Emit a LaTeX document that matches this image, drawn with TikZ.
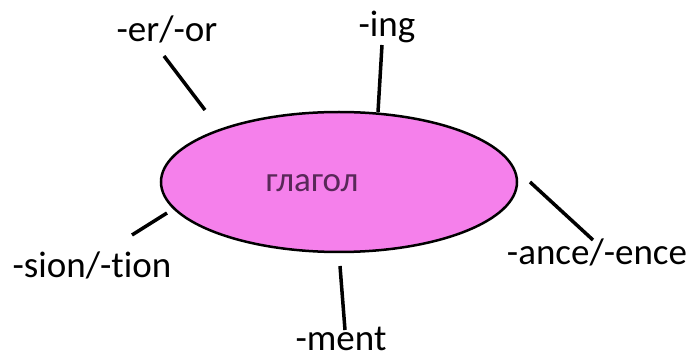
\documentclass[tikz,border=0pt]{standalone}
\usepackage{fontspec}
\setmainfont{Carlito}[Ligatures={NoCommon}]
\usetikzlibrary{shapes.geometric}
\definecolor{verbpink}{RGB}{245,128,235}
\definecolor{verbtext}{RGB}{88,40,88}

\begin{document}
\begin{tikzpicture}[x=1pt, y=-1pt, every node/.style={font=\fontsize{37}{40}\selectfont},
    suffix/.style={anchor=base, inner sep=0pt}, stem/.style={line width=3.5pt}]
  \useasboundingbox (0,0) rectangle (694,358);
  \node[draw,ellipse,fill=verbpink,line width=2.5pt,minimum width=356pt,minimum height=140pt,inner sep=0pt] (verb) at (339,182) {};
  \node[text=verbtext,font=\fontsize{35}{38}\selectfont] (verblabel) at (312,183) {глагол};

  \node[suffix] (er) at (167,42) {-er/-or};
  \node[suffix] (ing) at (387,37) {-ing};
  \node[suffix] (ance) at (597,265) {-ance/-ence};
  \node[suffix] (sion) at (92,278) {-sion/-tion};
  \node[suffix] (ment) at (341,350) {-ment};

  \coordinate (erA) at (164,56);   \coordinate (erB) at (205,110);
  \coordinate (ingA) at (382,45);  \coordinate (ingB) at (378,112);
  \coordinate (anceA) at (530,182); \coordinate (anceB) at (593,240);
  \coordinate (sionA) at (132,235); \coordinate (sionB) at (167,213);
  \coordinate (mentA) at (340,266); \coordinate (mentB) at (345,330);

  \draw[stem] (erA) -- (erB);
  \draw[stem] (ingA) -- (ingB);
  \draw[stem] (anceA) -- (anceB);
  \draw[stem] (sionA) -- (sionB);
  \draw[stem] (mentA) -- (mentB);
\end{tikzpicture}
\end{document}
